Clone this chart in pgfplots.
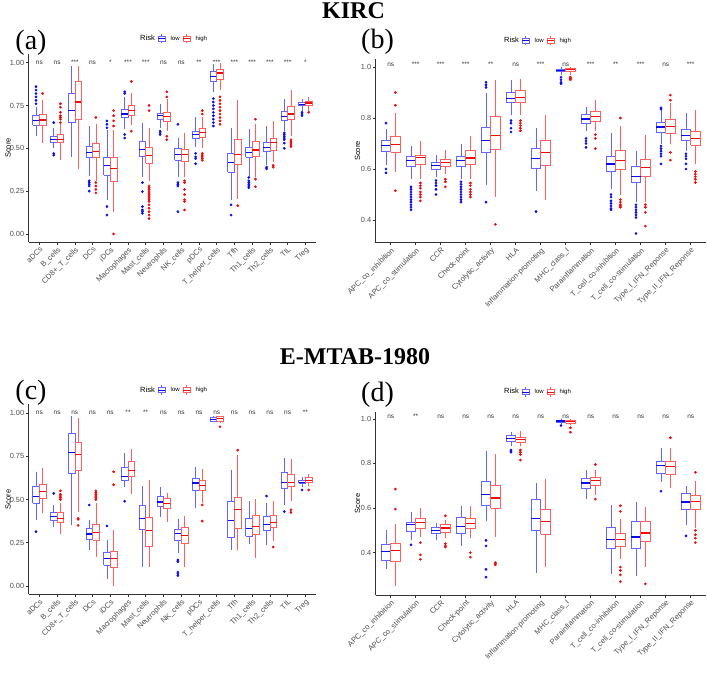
\documentclass[border=0pt]{standalone}
\usepackage{fontspec}
\setmainfont{Liberation Sans}
\newfontfamily\titlefont{Liberation Serif}
\usepackage{pgfplots}
\pgfplotsset{compat=1.18}
\definecolor{lowc}{RGB}{10,10,240}
\definecolor{lowl}{RGB}{100,100,255}
\definecolor{highc}{RGB}{240,10,10}
\definecolor{highl}{RGB}{255,95,95}
\definecolor{g30}{RGB}{77,77,77}
\newcommand\tfs{\fontsize{7.6}{8.5}\selectfont}
\newcommand\yfs{\fontsize{7.4}{8.5}\selectfont}
\pgfplotsset{
  panel/.style={scale only axis, axis lines*=left, clip=false,
    axis line style={black!80, line width=0.6pt},
    tick style={black!80, line width=0.5pt}, tick align=outside, major tick length=2.8pt,
    xticklabel style={rotate=45, anchor=north east, font=\tfs, text=g30, inner sep=1pt},
    yticklabel style={font=\yfs, text=g30, inner sep=1.5pt},
    /pgf/number format/assume math mode=true,
    ylabel={Score}, ylabel style={font=\fontsize{7.5}{8}\selectfont, at={(axis description cs:0,0.5)}, anchor=center},
    legend style={draw=none, fill=none, legend columns=-1, font=\fontsize{6}{7}\selectfont, inner sep=0pt,
      /tikz/every even column/.append style={column sep=1pt}, /tikz/every odd column/.append style={column sep=3pt}},
    legend cell align=left},
}
% box of the low group in category #1: lower whisker #2, q1 #3, median #4, q3 #5, upper whisker #6, outliers #7
\newcommand\lo[7]{%
 \addplot[lowl, line width=0.6pt, x filter/.expression={x+#1}] coordinates {(-0.1875,#2)(-0.1875,#3)};%
 \addplot[lowl, line width=0.6pt, x filter/.expression={x+#1}] coordinates {(-0.1875,#5)(-0.1875,#6)};%
 \addplot[lowl, line width=0.6pt, line join=miter, x filter/.expression={x+#1}] coordinates {(-0.375,#3)(0,#3)(0,#5)(-0.375,#5)(-0.375,#3)};%
 \addplot[lowc, line width=1.2pt, x filter/.expression={x+#1}] coordinates {(-0.375,#4)(0,#4)};%
 \ifx\relax#7\relax\else\addplot[only marks, mark=*, mark size=1.15pt, lowc, x filter/.expression={#1-0.1875}] coordinates {#7};\fi}
\newcommand\hi[7]{%
 \addplot[highl, line width=0.6pt, x filter/.expression={x+#1}] coordinates {(0.1875,#2)(0.1875,#3)};%
 \addplot[highl, line width=0.6pt, x filter/.expression={x+#1}] coordinates {(0.1875,#5)(0.1875,#6)};%
 \addplot[highl, line width=0.6pt, line join=miter, x filter/.expression={x+#1}] coordinates {(0,#3)(0.375,#3)(0.375,#5)(0,#5)(0,#3)};%
 \addplot[highc, line width=1.2pt, x filter/.expression={x+#1}] coordinates {(0,#4)(0.375,#4)};%
 \ifx\relax#7\relax\else\addplot[only marks, mark=*, mark size=1.15pt, highc, x filter/.expression={#1+0.1875}] coordinates {#7};\fi}
\newcommand\leg{%
  \addlegendimage{empty legend}\addlegendentry{\fontsize{7.5}{8}\selectfont Risk}
  \addlegendimage{legend image code/.code={\draw[lowl,line width=0.6pt] (0pt,-2.6pt) rectangle (7pt,2.6pt); \draw[lowl,line width=0.6pt] (3.5pt,2.6pt)--(3.5pt,4.6pt) (3.5pt,-2.6pt)--(3.5pt,-4.6pt); \draw[lowc,line width=0.9pt] (0pt,0pt)--(7pt,0pt);}}\addlegendentry{low}
  \addlegendimage{legend image code/.code={\draw[highl,line width=0.6pt] (0pt,-2.6pt) rectangle (7pt,2.6pt); \draw[highl,line width=0.6pt] (3.5pt,2.6pt)--(3.5pt,4.6pt) (3.5pt,-2.6pt)--(3.5pt,-4.6pt); \draw[highc,line width=0.9pt] (0pt,0pt)--(7pt,0pt);}}\addlegendentry{high}}
\newcommand\sig[3]{\node[font=\fontsize{6.5}{7}\selectfont, text=black!80, anchor=base, yshift=-2pt, inner sep=0pt] at (axis cs:#1,#2) {#3};}
\begin{document}
\begin{tikzpicture}
\useasboundingbox (0pt,0pt) rectangle (707pt,674pt);
\node[font=\titlefont\bfseries\fontsize{24}{26}\selectfont] at (353.5pt,663.8pt) {KIRC};
\node[font=\titlefont\bfseries\fontsize{24}{26}\selectfont] at (355pt,317pt) {E-MTAB-1980};
\node[font=\titlefont\fontsize{28}{30}\selectfont] at (31pt,631pt) {(a)};
\node[font=\titlefont\fontsize{28}{30}\selectfont] at (377.5pt,632.3pt) {(b)};
\node[font=\titlefont\fontsize{28}{30}\selectfont] at (31pt,281pt) {(c)};
\node[font=\titlefont\fontsize{28}{30}\selectfont] at (377.5pt,279pt) {(d)};

% ---------------- (a) KIRC immune cells
\begin{axis}[panel, at={(28.7pt,432pt)}, anchor=south west, width=287.3pt, height=187.9pt,
  xmin=0.4, xmax=16.6, ymin=-0.047, ymax=1.05,
  xtick={1,...,16}, xticklabels={aDCs,B\_cells,CD8+\_T\_cells,DCs,iDCs,Macrophages,Mast\_cells,Neutrophils,NK\_cells,pDCs,T\_helper\_cells,Tfh,Th1\_cells,Th2\_cells,TIL,Treg},
  ytick={0,0.25,0.5,0.75,1}, yticklabels={0.00,0.25,0.50,0.75,1.00},
  ylabel style={yshift=20.7pt},
  legend style={at={(axis description cs:0.37,1.082)}, anchor=west}]
\leg
\lo{1}{0.57}{0.635}{0.66}{0.69}{0.74}{(0,0.76)(0,0.78)(0,0.80)(0,0.82)(0,0.84)(0,0.86)}
\hi{1}{0.53}{0.635}{0.665}{0.70}{0.78}{(0,0.82)}
\lo{2}{0.50}{0.533}{0.553}{0.568}{0.62}{(0,0.65)(0,0.47)(0,0.46)}
\hi{2}{0.43}{0.535}{0.553}{0.58}{0.64}{(0,0.65)(0,0.67)(0,0.68)(0,0.69)(0,0.71)(0,0.74)(0,0.76)}
\lo{3}{0.45}{0.65}{0.72}{0.82}{0.98}{}
\hi{3}{0.38}{0.67}{0.77}{0.89}{0.98}{}
\lo{4}{0.34}{0.45}{0.477}{0.51}{0.63}{(0,0.31)(0,0.30)(0,0.29)(0,0.28)(0,0.25)}
\hi{4}{0.31}{0.45}{0.48}{0.53}{0.64}{(0,0.68)(0,0.30)(0,0.28)(0,0.26)(0,0.24)}
\lo{5}{0.20}{0.345}{0.40}{0.45}{0.607}{(0,0.62)(0,0.64)(0,0.66)(0,0.16)(0,0.11)}
\hi{5}{0.126}{0.31}{0.38}{0.445}{0.607}{(0,0.63)(0,0.66)(0,0.69)(0,0.72)(0,0.0)}
\lo{6}{0.61}{0.68}{0.70}{0.73}{0.80}{(0,0.82)(0,0.83)(0,0.58)(0,0.56)}
\hi{6}{0.635}{0.69}{0.72}{0.753}{0.82}{(0,0.89)(0,0.60)}
\lo{7}{0.335}{0.455}{0.495}{0.54}{0.65}{(0,0.30)(0,0.247)(0,0.16)(0,0.14)(0,0.13)(0,0.12)}
\hi{7}{0.31}{0.415}{0.46}{0.505}{0.62}{(0,0.75)(0,0.72)(0,0.28)(0,0.27)(0,0.26)(0,0.25)(0,0.24)(0,0.23)(0,0.22)(0,0.21)(0,0.20)(0,0.19)(0,0.17)(0,0.15)(0,0.13)(0,0.11)(0,0.09)}
\lo{8}{0.62}{0.67}{0.69}{0.705}{0.76}{(0,0.60)(0,0.59)(0,0.58)}
\hi{8}{0.60}{0.655}{0.685}{0.708}{0.79}{(0,0.83)(0,0.80)(0,0.57)(0,0.55)}
\lo{9}{0.33}{0.43}{0.465}{0.50}{0.56}{(0,0.64)(0,0.30)(0,0.29)(0,0.28)(0,0.13)}
\hi{9}{0.33}{0.425}{0.465}{0.495}{0.59}{(0,0.31)(0,0.30)(0,0.26)(0,0.23)(0,0.20)(0,0.19)(0,0.14)}
\lo{10}{0.51}{0.56}{0.58}{0.60}{0.68}{(0,0.47)(0,0.45)(0,0.44)(0,0.41)}
\hi{10}{0.50}{0.565}{0.59}{0.617}{0.685}{(0,0.70)(0,0.72)(0,0.47)(0,0.46)(0,0.45)(0,0.44)(0,0.43)}
\lo{11}{0.83}{0.89}{0.92}{0.95}{0.99}{(0,0.79)(0,0.77)(0,0.75)(0,0.73)(0,0.71)(0,0.69)(0,0.67)(0,0.65)(0,0.63)}
\hi{11}{0.84}{0.90}{0.94}{0.96}{1.0}{(0,0.80)(0,0.78)(0,0.76)(0,0.74)(0,0.72)(0,0.70)(0,0.68)(0,0.66)(0,0.64)}
\lo{12}{0.20}{0.36}{0.415}{0.47}{0.62}{(0,0.17)(0,0.11)}
\hi{12}{0.205}{0.405}{0.465}{0.55}{0.78}{(0,0.165)}
\lo{13}{0.34}{0.45}{0.475}{0.505}{0.61}{(0,0.33)(0,0.31)(0,0.30)(0,0.29)(0,0.28)(0,0.27)}
\hi{13}{0.33}{0.455}{0.49}{0.54}{0.64}{(0,0.67)(0,0.32)(0,0.276)}
\lo{14}{0.40}{0.48}{0.505}{0.533}{0.63}{(0,0.39)(0,0.38)}
\hi{14}{0.42}{0.486}{0.535}{0.558}{0.66}{(0,0.40)(0,0.39)}
\lo{15}{0.60}{0.662}{0.685}{0.714}{0.79}{(0,0.59)(0,0.58)(0,0.57)(0,0.56)(0,0.55)(0,0.53)(0,0.50)}
\hi{15}{0.57}{0.67}{0.70}{0.743}{0.84}{(0,0.55)(0,0.54)(0,0.53)(0,0.52)(0,0.51)}
\lo{16}{0.72}{0.749}{0.757}{0.768}{0.79}{(0,0.71)(0,0.70)(0,0.69)}
\hi{16}{0.72}{0.75}{0.765}{0.776}{0.80}{(0,0.71)}
\sig{1}{1.0}{ns}\sig{2}{1.0}{ns}\sig{3}{1.0}{***}\sig{4}{1.0}{ns}\sig{5}{1.0}{*}\sig{6}{1.0}{***}\sig{7}{1.0}{***}\sig{8}{1.0}{ns}
\sig{9}{1.0}{ns}\sig{10}{1.0}{**}\sig{11}{1.0}{***}\sig{12}{1.0}{***}\sig{13}{1.0}{***}\sig{14}{1.0}{***}\sig{15}{1.0}{***}\sig{16}{1.0}{*}
\end{axis}

% ---------------- (b) KIRC immune functions
\begin{axis}[panel, at={(375.7pt,431.3pt)}, anchor=south west, width=330pt, height=183.3pt,
  xmin=0.4, xmax=13.6, ymin=0.311, ymax=1.03,
  xtick={1,...,13}, xticklabels={APC\_co\_inhibition,APC\_co\_stimulation,CCR,Check-point,Cytolytic\_activity,HLA,Inflammation-promoting,MHC\_class\_I,Parainflammation,T\_cell\_co-inhibition,T\_cell\_co-stimulation,Type\_I\_IFN\_Reponse,Type\_II\_IFN\_Reponse},
  ytick={0.4,0.6,0.8,1.0}, yticklabels={0.4,0.6,0.8,1.0},
  ylabel style={yshift=18.2pt},
  legend style={at={(axis description cs:0.3736,1.102)}, anchor=west}]
\leg
\lo{1}{0.615}{0.671}{0.692}{0.714}{0.755}{(0,0.78)(0,0.60)(0,0.585)}
\hi{1}{0.59}{0.667}{0.695}{0.73}{0.82}{(0,0.85)(0,0.90)(0,0.515)}
\lo{2}{0.56}{0.609}{0.633}{0.651}{0.69}{(0,0.53)(0,0.52)(0,0.51)(0,0.50)(0,0.49)(0,0.48)(0,0.47)(0,0.46)(0,0.45)(0,0.44)}
\hi{2}{0.56}{0.618}{0.645}{0.654}{0.71}{(0,0.545)(0,0.535)(0,0.525)(0,0.51)(0,0.50)(0,0.49)(0,0.475)}
\lo{3}{0.57}{0.599}{0.613}{0.627}{0.655}{(0,0.555)(0,0.545)(0,0.535)(0,0.52)(0,0.50)}
\hi{3}{0.58}{0.612}{0.625}{0.64}{0.675}{(0,0.56)(0,0.55)(0,0.53)}
\lo{4}{0.56}{0.609}{0.632}{0.651}{0.70}{(0,0.55)(0,0.54)(0,0.53)(0,0.52)(0,0.51)(0,0.50)(0,0.49)(0,0.48)(0,0.47)}
\hi{4}{0.56}{0.618}{0.643}{0.673}{0.73}{(0,0.545)(0,0.535)(0,0.52)(0,0.51)(0,0.50)(0,0.49)}
\lo{5}{0.537}{0.667}{0.712}{0.762}{0.90}{(0,0.92)(0,0.93)(0,0.94)(0,0.47)}
\hi{5}{0.49}{0.677}{0.73}{0.808}{0.95}{(0,0.383)}
\lo{6}{0.81}{0.86}{0.877}{0.902}{0.95}{(0,0.79)(0,0.78)(0,0.76)(0,0.745)}
\hi{6}{0.81}{0.86}{0.882}{0.908}{0.955}{(0,0.79)(0,0.78)(0,0.77)(0,0.76)(0,0.75)}
\lo{7}{0.515}{0.601}{0.64}{0.683}{0.76}{(0,0.433)}
\hi{7}{0.48}{0.616}{0.665}{0.714}{0.81}{}
\lo{8}{0.97}{0.982}{0.987}{0.993}{1.0}{(0,0.96)(0,0.95)(0,0.94)(0,0.935)}
\hi{8}{0.97}{0.982}{0.99}{0.995}{1.0}{(0,0.96)(0,0.955)(0,0.95)}
\lo{9}{0.75}{0.779}{0.796}{0.814}{0.845}{(0,0.72)(0,0.71)(0,0.70)(0,0.685)}
\hi{9}{0.75}{0.788}{0.806}{0.827}{0.87}{(0,0.735)(0,0.72)(0,0.68)}
\lo{10}{0.52}{0.59}{0.62}{0.651}{0.74}{(0,0.50)(0,0.49)(0,0.475)(0,0.465)(0,0.455)(0,0.445)(0,0.44)}
\hi{10}{0.50}{0.597}{0.632}{0.675}{0.77}{(0,0.80)(0,0.48)(0,0.47)(0,0.46)(0,0.455)(0,0.45)}
\lo{11}{0.47}{0.546}{0.572}{0.612}{0.67}{(0,0.46)(0,0.45)(0,0.44)(0,0.43)(0,0.42)(0,0.41)(0,0.347)}
\hi{11}{0.47}{0.573}{0.605}{0.638}{0.735}{(0,0.46)(0,0.45)(0,0.43)(0,0.376)}
\lo{12}{0.70}{0.745}{0.765}{0.782}{0.83}{(0,0.835)(0,0.84)(0,0.69)(0,0.68)(0,0.67)(0,0.66)(0,0.65)(0,0.62)}
\hi{12}{0.70}{0.742}{0.768}{0.795}{0.86}{(0,0.87)(0,0.89)(0,0.665)(0,0.635)}
\lo{13}{0.67}{0.714}{0.73}{0.756}{0.82}{(0,0.66)(0,0.65)(0,0.64)(0,0.62)(0,0.60)}
\hi{13}{0.62}{0.693}{0.72}{0.746}{0.83}{(0,0.59)(0,0.58)(0,0.57)(0,0.56)(0,0.547)}
\sig{1}{1.01}{ns}\sig{2}{1.01}{***}\sig{3}{1.01}{***}\sig{4}{1.01}{***}\sig{5}{1.01}{**}\sig{6}{1.01}{ns}\sig{7}{1.01}{***}
\sig{8}{1.01}{ns}\sig{9}{1.01}{***}\sig{10}{1.01}{**}\sig{11}{1.01}{***}\sig{12}{1.01}{ns}\sig{13}{1.01}{***}
\end{axis}

% ---------------- (c) E-MTAB-1980 immune cells
\begin{axis}[panel, at={(28.7pt,79.7pt)}, anchor=south west, width=287.3pt, height=190pt,
  xmin=0.4, xmax=16.6, ymin=-0.048, ymax=1.05,
  xtick={1,...,16}, xticklabels={aDCs,B\_cells,CD8+\_T\_cells,DCs,iDCs,Macrophages,Mast\_cells,Neutrophils,NK\_cells,pDCs,T\_helper\_cells,Tfh,Th1\_cells,Th2\_cells,TIL,Treg},
  ytick={0,0.25,0.5,0.75,1}, yticklabels={0.00,0.25,0.50,0.75,1.00},
  ylabel style={yshift=20.7pt},
  legend style={at={(axis description cs:0.37,1.075)}, anchor=west}]
\leg
\lo{1}{0.38}{0.478}{0.515}{0.578}{0.66}{(0,0.314)}
\hi{1}{0.42}{0.507}{0.548}{0.588}{0.68}{}
\lo{2}{0.34}{0.382}{0.40}{0.426}{0.468}{(0,0.535)}
\hi{2}{0.30}{0.368}{0.39}{0.426}{0.48}{(0,0.50)(0,0.51)(0,0.52)(0,0.53)(0,0.55)}
\lo{3}{0.35}{0.651}{0.77}{0.882}{0.98}{}
\hi{3}{0.43}{0.67}{0.76}{0.828}{0.97}{(0,0.39)(0,0.385)(0,0.35)}
\lo{4}{0.21}{0.27}{0.30}{0.335}{0.38}{(0,0.468)}
\hi{4}{0.17}{0.266}{0.31}{0.356}{0.48}{(0,0.50)(0,0.51)(0,0.52)(0,0.53)(0,0.54)(0,0.55)}
\lo{5}{0.04}{0.121}{0.16}{0.195}{0.266}{(0,0.347)}
\hi{5}{0.0}{0.108}{0.16}{0.202}{0.324}{(0,0.585)(0,0.66)}
\lo{6}{0.57}{0.613}{0.633}{0.684}{0.77}{(0,0.49)}
\hi{6}{0.53}{0.636}{0.666}{0.723}{0.79}{}
\lo{7}{0.11}{0.328}{0.39}{0.468}{0.58}{}
\hi{7}{0.11}{0.227}{0.32}{0.397}{0.61}{}
\lo{8}{0.40}{0.459}{0.485}{0.516}{0.57}{}
\hi{8}{0.37}{0.449}{0.475}{0.507}{0.54}{}
\lo{9}{0.19}{0.262}{0.305}{0.328}{0.385}{(0,0.15)(0,0.14)(0,0.08)(0,0.07)(0,0.06)}
\hi{9}{0.11}{0.247}{0.29}{0.339}{0.405}{}
\lo{10}{0.45}{0.555}{0.595}{0.622}{0.685}{}
\hi{10}{0.48}{0.551}{0.58}{0.613}{0.675}{(0,0.468)(0,0.375)}
\lo{11}{0.945}{0.954}{0.963}{0.973}{0.98}{}
\hi{11}{0.94}{0.954}{0.966}{0.979}{0.985}{(0,0.92)}
\lo{12}{0.21}{0.28}{0.38}{0.487}{0.67}{}
\hi{12}{0.208}{0.333}{0.443}{0.513}{0.755}{(0,0.785)}
\lo{13}{0.24}{0.289}{0.33}{0.391}{0.49}{}
\hi{13}{0.16}{0.299}{0.345}{0.41}{0.50}{}
\lo{14}{0.235}{0.324}{0.355}{0.405}{0.48}{(0,0.52)}
\hi{14}{0.26}{0.339}{0.365}{0.41}{0.49}{(0,0.225)}
\lo{15}{0.47}{0.565}{0.60}{0.657}{0.74}{(0,0.43)}
\hi{15}{0.49}{0.574}{0.60}{0.647}{0.735}{(0,0.44)(0,0.425)}
\lo{16}{0.57}{0.593}{0.60}{0.609}{0.63}{(0,0.555)}
\hi{16}{0.58}{0.597}{0.61}{0.626}{0.645}{(0,0.555)}
\sig{1}{1.0}{ns}\sig{2}{1.0}{ns}\sig{3}{1.0}{ns}\sig{4}{1.0}{ns}\sig{5}{1.0}{ns}\sig{6}{1.0}{**}\sig{7}{1.0}{**}\sig{8}{1.0}{ns}
\sig{9}{1.0}{ns}\sig{10}{1.0}{ns}\sig{11}{1.0}{ns}\sig{12}{1.0}{ns}\sig{13}{1.0}{ns}\sig{14}{1.0}{ns}\sig{15}{1.0}{ns}\sig{16}{1.0}{**}
\end{axis}

% ---------------- (d) E-MTAB-1980 immune functions
\begin{axis}[panel, at={(375.7pt,79pt)}, anchor=south west, width=330pt, height=182.9pt,
  xmin=0.4, xmax=13.6, ymin=0.21, ymax=1.03,
  xtick={1,...,13}, xticklabels={APC\_co\_inhibition,APC\_co\_stimulation,CCR,Check-point,Cytolytic\_activity,HLA,Inflammation-promoting,MHC\_class\_I,Parainflammation,T\_cell\_co-inhibition,T\_cell\_co-stimulation,Type\_I\_IFN\_Reponse,Type\_II\_IFN\_Reponse},
  ytick={0.4,0.6,0.8,1.0}, yticklabels={0.4,0.6,0.8,1.0},
  ylabel style={yshift=18.2pt},
  legend style={at={(axis description cs:0.3736,1.11)}, anchor=west}]
\leg
\lo{1}{0.325}{0.365}{0.405}{0.436}{0.50}{}
\hi{1}{0.25}{0.36}{0.41}{0.442}{0.529}{(0,0.595)(0,0.685)}
\lo{2}{0.455}{0.495}{0.525}{0.535}{0.58}{(0,0.435)}
\hi{2}{0.47}{0.51}{0.535}{0.555}{0.60}{(0,0.445)(0,0.39)(0,0.37)}
\lo{3}{0.455}{0.485}{0.498}{0.515}{0.535}{}
\hi{3}{0.465}{0.492}{0.51}{0.525}{0.545}{(0,0.565)(0,0.44)(0,0.43)(0,0.425)}
\lo{4}{0.43}{0.487}{0.518}{0.56}{0.61}{}
\hi{4}{0.465}{0.51}{0.53}{0.555}{0.61}{(0,0.40)(0,0.38)}
\lo{5}{0.54}{0.614}{0.66}{0.72}{0.855}{(0,0.455)(0,0.43)(0,0.325)(0,0.29)}
\hi{5}{0.47}{0.60}{0.645}{0.70}{0.84}{(0,0.355)(0,0.35)(0,0.345)}
\lo{6}{0.88}{0.90}{0.913}{0.924}{0.94}{(0,0.86)(0,0.855)(0,0.85)}
\hi{6}{0.88}{0.895}{0.908}{0.916}{0.945}{(0,0.86)(0,0.85)(0,0.84)(0,0.815)}
\lo{7}{0.31}{0.498}{0.553}{0.64}{0.714}{}
\hi{7}{0.335}{0.483}{0.54}{0.592}{0.73}{}
\lo{8}{0.975}{0.985}{0.99}{0.995}{1.0}{(0,0.97)}
\hi{8}{0.97}{0.98}{0.988}{0.993}{1.0}{(0,0.96)(0,0.94)}
\lo{9}{0.64}{0.689}{0.712}{0.734}{0.77}{}
\hi{9}{0.66}{0.70}{0.725}{0.738}{0.77}{(0,0.795)(0,0.64)}
\lo{10}{0.305}{0.42}{0.46}{0.513}{0.615}{}
\hi{10}{0.37}{0.43}{0.46}{0.488}{0.55}{(0,0.61)(0,0.585)(0,0.335)(0,0.32)(0,0.30)(0,0.27)}
\lo{11}{0.295}{0.42}{0.47}{0.54}{0.625}{}
\hi{11}{0.335}{0.45}{0.488}{0.54}{0.605}{(0,0.26)}
\lo{12}{0.715}{0.756}{0.79}{0.81}{0.87}{(0,0.675)}
\hi{12}{0.69}{0.753}{0.785}{0.81}{0.87}{(0,0.915)}
\lo{13}{0.525}{0.592}{0.627}{0.667}{0.70}{(0,0.475)}
\hi{13}{0.51}{0.592}{0.63}{0.655}{0.72}{(0,0.76)(0,0.50)(0,0.48)(0,0.465)(0,0.445)}
\sig{1}{1.009}{ns}\sig{2}{1.009}{**}\sig{3}{1.009}{ns}\sig{4}{1.009}{ns}\sig{5}{1.009}{ns}\sig{6}{1.009}{ns}\sig{7}{1.009}{ns}
\sig{8}{1.009}{ns}\sig{9}{1.009}{ns}\sig{10}{1.009}{ns}\sig{11}{1.009}{ns}\sig{12}{1.009}{ns}\sig{13}{1.009}{ns}
\end{axis}
\end{tikzpicture}
\end{document}
